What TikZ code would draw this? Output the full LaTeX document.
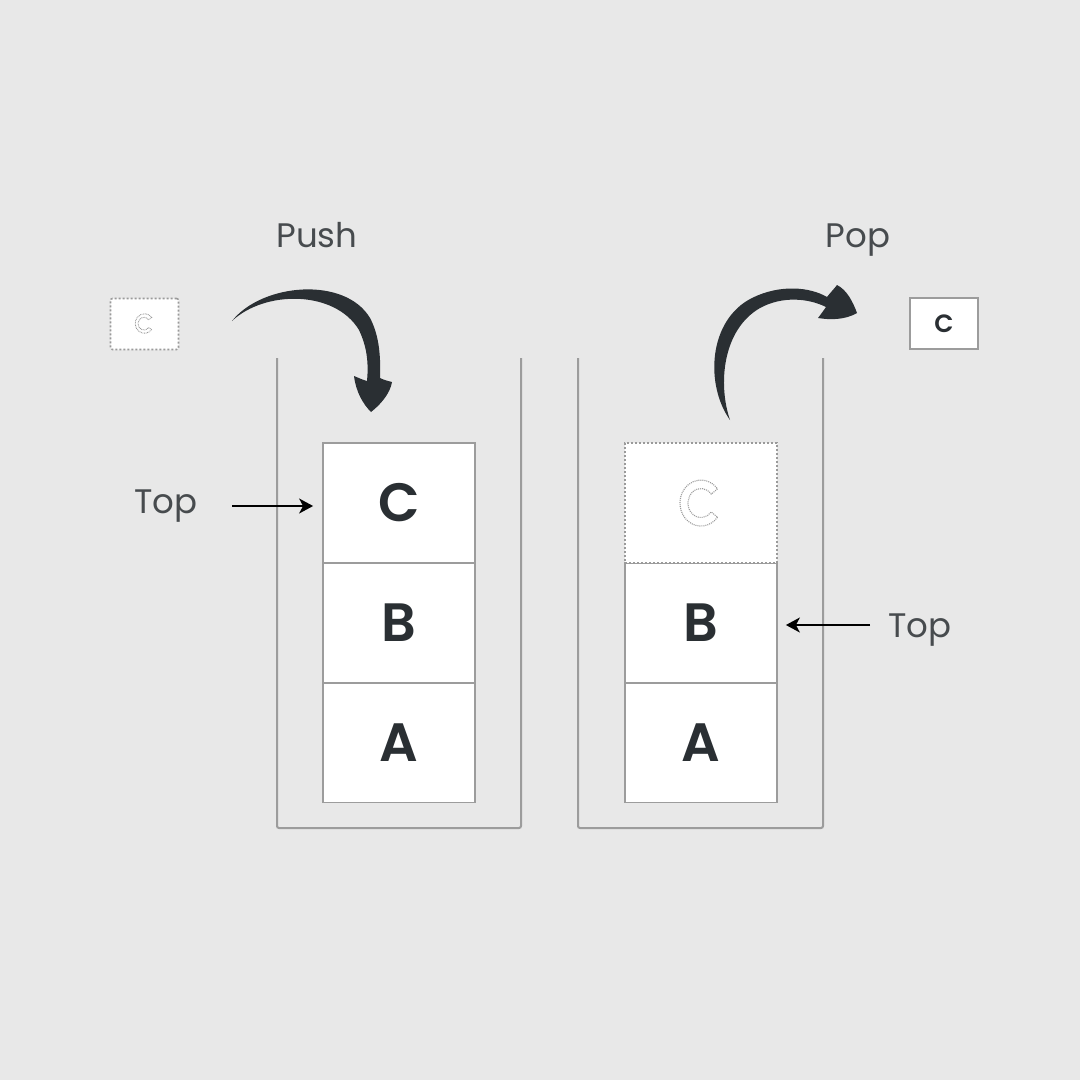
\documentclass[tikz,border=0pt]{standalone}
\usepackage{fontspec}
\setmainfont{Poppins}
\newfontfamily\semib{Poppins SemiBold}
\usetikzlibrary{arrows.meta}
\definecolor{bg}{HTML}{E8E8E8}
\definecolor{ink}{HTML}{2A2F33}
\definecolor{frame}{HTML}{9C9C9C}
\definecolor{label}{HTML}{474B4E}
\definecolor{ghost}{HTML}{9A9A9A}
\tikzset{
  cell/.style={draw=frame, line width=1.8pt, fill=white, minimum width=152pt, minimum height=120pt,
    inner sep=0pt, font=\fontsize{54}{60}\semib, text=ink},
  ghostcell/.style={cell, draw=ghost, dash pattern=on 2pt off 2pt, line width=1.6pt},
  lbl/.style={font=\fontsize{34}{40}\selectfont, text=label, anchor=base, inner sep=0pt},
  pointer/.style={draw=black, line width=1.6pt, -{Stealth[length=14pt,width=15pt,inset=4pt]}},
  wall/.style={draw=frame, line width=2pt, rounded corners=2pt},
  mini/.style={draw=frame, line width=1.6pt, fill=white, minimum width=68pt, minimum height=51pt,
    inner sep=0pt, font=\fontsize{25}{28}\semib, text=ink},
  ghostmini/.style={mini, draw=ghost, dash pattern=on 2pt off 2pt, line width=1.6pt, rounded corners=2pt},
  ghostglyph/.style={draw=ghost, line width=1.1pt, dash pattern=on 1pt off 1pt},
  swoosh/.style={fill=ink, draw=none}
}
\begin{document}
\begin{tikzpicture}[x=1pt,y=-1pt]
\fill[bg] (0,0) rectangle (1080,1080);
\useasboundingbox (0,0) rectangle (1080,1080);

% containers
\draw[wall] (277,358) -- (277,828) -- (521,828) -- (521,358);
\draw[wall] (578,358) -- (578,828) -- (823,828) -- (823,358);

% left stack
\node[cell] (lA) at (399,742.5) {A};
\node[cell] (lB) at (399,623) {B};
\node[cell] (lC) at (399,503) {C};

% right stack
\node[cell] (rA) at (701,742.5) {A};
\node[cell] (rB) at (701,623) {B};
\node[ghostcell] (rC) at (701,503) {};
\draw[ghostglyph] (717.5,517.2) arc[start angle=38, end angle=322, x radius=21, y radius=23]
  -- (711.2,494.1) arc[start angle=322, end angle=38, x radius=13, y radius=14.5] -- cycle;

% small boxes
\node[ghostmini] (inC) at (144.5,324) {};
\draw[ghostglyph, line width=0.9pt, dash pattern=on 0.8pt off 0.8pt]
  (151.7,329.5) arc[start angle=38, end angle=322, x radius=9.2, y radius=9.8]
  -- (148.5,319.8) arc[start angle=322, end angle=38, x radius=5.8, y radius=6.3] -- cycle;
\node[mini] (outC) at (944,323.5) {C};

% labels
\node[lbl] (push) at (317,247) {Push};
\node[lbl] (pop) at (858,247) {Pop};
\node[lbl] (topL) at (166,513) {Top};
\node[lbl] (topR) at (920,637) {Top};

% pointers
\coordinate (tl) at (232,506);
\draw[pointer, shorten >=9pt] (tl) -- (tl -| lC.west);
\coordinate (tr) at (870,625);
\draw[pointer, shorten >=8pt] (tr) -- (tr -| rB.east);

% push swoosh
\fill[swoosh] (232,321) .. controls (262,283) and (345,276) .. (370,318)
  .. controls (378,333) and (381,352) .. (380,378)
  .. controls (384,380) and (388,381) .. (392,382)
  .. controls (390,394) and (380,405) .. (371,412)
  .. controls (363,404) and (356,392) .. (354,376)
  .. controls (359,378) and (363,380) .. (367,381)
  .. controls (369,360) and (366,345) .. (359,330)
  .. controls (335,290) and (265,290) .. (232,321) -- cycle;

% pop swoosh
\fill[swoosh] (730,420) .. controls (705,385) and (708,320) .. (752,298)
  .. controls (780,284) and (810,287) .. (827,297)
  .. controls (830,293) and (834,289) .. (837,285)
  .. controls (847,290) and (853,302) .. (857,313)
  .. controls (845,320) and (830,320) .. (818,318)
  .. controls (821,314) and (824,310) .. (826,307)
  .. controls (808,298) and (782,296) .. (760,308)
  .. controls (722,330) and (718,385) .. (730,420) -- cycle;
\end{tikzpicture}
\end{document}
